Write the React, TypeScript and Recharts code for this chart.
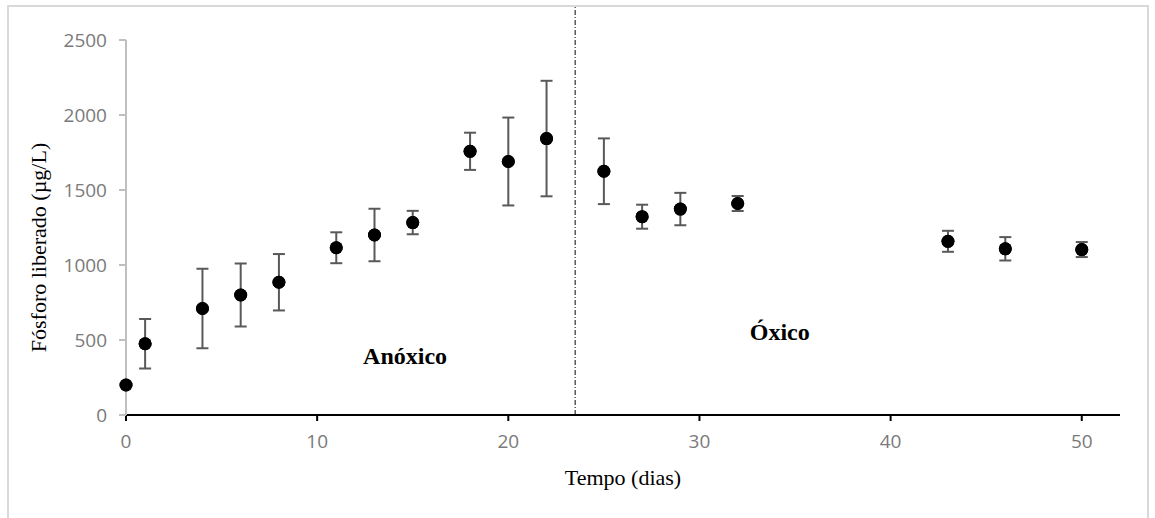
import React from 'react';
import {
  ScatterChart,
  Scatter,
  XAxis,
  YAxis,
  ErrorBar,
  ReferenceLine,
  ReferenceDot,
} from 'recharts';

// Tempo (dias) vs fósforo liberado, média ± desvio
const days = [0, 1, 4, 6, 8, 11, 13, 15, 18, 20, 22, 25, 27, 29, 32, 43, 46, 50];
const phosphorus = [200, 475, 710, 800, 885, 1115, 1200, 1283, 1758, 1690, 1843, 1625, 1322, 1373, 1410, 1158, 1108, 1103];
const deviation = [0, 165, 265, 210, 188, 103, 175, 78, 124, 293, 385, 219, 80, 108, 50, 70, 78, 50];

const xTicks = [0, 10, 20, 30, 40, 50];
const yTicks = [0, 500, 1000, 1500, 2000, 2500];

const phaseChangeDay = 23.5;

const chartData = days.map((d, i) => ({ day: d, p: phosphorus[i], err: deviation[i] }));

const tickStyle = { fontFamily: 'Open Sans', fontSize: 19, fill: '#7a7a7a' };
const serif = 'Liberation Serif';

const Dot = (props: any) => <circle cx={props.cx} cy={props.cy} r={6.5} fill="#000" />;

export default function App() {
  return (
    <div style={{ position: 'absolute', left: 0, top: 0, width: 1155, height: 518, background: '#fff' }}>
      <div
        style={{
          position: 'absolute',
          left: 7,
          top: 5,
          width: 1142,
          height: 513,
          boxSizing: 'border-box',
          border: '2px solid #d9d9d9',
          borderBottom: 'none',
        }}
      />
      <div style={{ position: 'absolute', left: 0, top: 0 }}>
        <ScatterChart width={1155} height={518} margin={{ top: 40, right: 35, left: 0, bottom: 0 }}>
          <XAxis
            type="number"
            dataKey="day"
            domain={[0, 52]}
            ticks={xTicks}
            height={103}
            axisLine={{ stroke: '#000', strokeWidth: 2 }}
            tickLine={{ stroke: '#000', strokeWidth: 2 }}
            tickSize={6}
            tickMargin={14}
            tick={tickStyle}
            label={{
              value: 'Tempo (dias)',
              position: 'center',
              dy: 11,
              style: { fontFamily: serif, fontSize: 22, fill: '#000' },
            }}
          />
          <YAxis
            type="number"
            dataKey="p"
            domain={[0, 2500]}
            ticks={yTicks}
            width={126}
            axisLine={{ stroke: '#bfbfbf', strokeWidth: 2 }}
            tickLine={{ stroke: '#bfbfbf', strokeWidth: 2 }}
            tickSize={7}
            tickMargin={12}
            tick={tickStyle}
            label={{
              value: 'Fósforo liberado (µg/L)',
              angle: -90,
              position: 'center',
              dx: -25,
              dy: 20,
              style: { fontFamily: serif, fontSize: 22, fill: '#000', textAnchor: 'middle' },
            }}
          />
          <ReferenceLine
            segment={[
              { x: phaseChangeDay, y: 0 },
              { x: phaseChangeDay, y: 2730 },
            ]}
            ifOverflow="visible"
            stroke="#595959"
            strokeWidth={1.5}
            strokeDasharray="5 2 1 2"
          />
          <ReferenceDot
            x={14.6}
            y={400}
            r={0}
            ifOverflow="visible"
            label={{
              value: 'Anóxico',
              position: 'center',
              style: { fontFamily: serif, fontSize: 24, fontWeight: 'bold', fill: '#000' },
            }}
          />
          <ReferenceDot
            x={34.2}
            y={555}
            r={0}
            ifOverflow="visible"
            label={{
              value: 'Óxico',
              position: 'center',
              style: { fontFamily: serif, fontSize: 24, fontWeight: 'bold', fill: '#000' },
            }}
          />
          <Scatter data={chartData} shape={<Dot />} isAnimationActive={false}>
            <ErrorBar dataKey="err" direction="y" width={6} stroke="#595959" strokeWidth={2} isAnimationActive={false} />
          </Scatter>
          <Scatter data={chartData} shape={<Dot />} isAnimationActive={false} />
        </ScatterChart>
      </div>
    </div>
  );
}
